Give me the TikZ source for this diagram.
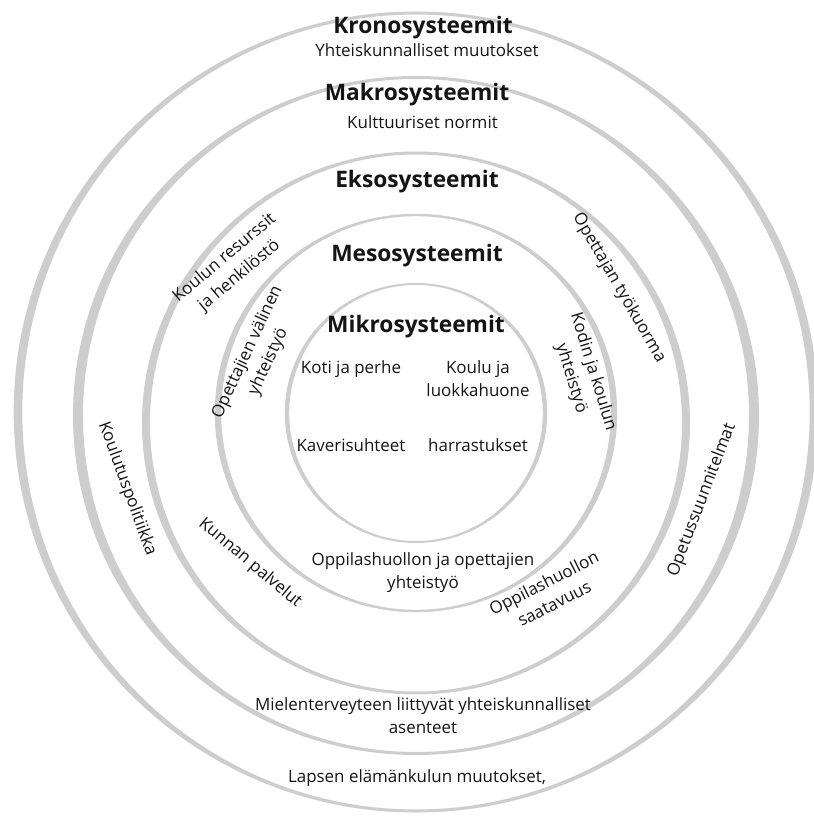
\documentclass[tikz,border=0pt]{standalone}
\usepackage{fontspec}
\setmainfont{Open Sans}
\usepackage{tikz}

\definecolor{ringgray}{HTML}{CDCDCD}
\definecolor{txt}{HTML}{141414}

\tikzset{
  ring/.style={fill=ringgray, even odd rule},
  label/.style={font=\fontsize{17}{23}\selectfont, text=txt, align=center, inner sep=0pt},
  title/.style={font=\fontsize{22.8}{26}\selectfont\bfseries, text=txt, inner sep=0pt}
}

\begin{document}
\begin{tikzpicture}[x=10bp, y=10bp]
\useasboundingbox (-41.6,-40.3) rectangle (39.8,41.3);

% rings, thick at the sides and thin at top and bottom
\fill[ring] (0,0.1) ellipse (40.23 and 40.05) (0,0.1) ellipse (39.37 and 39.75);
\fill[ring] (0,-0.25) ellipse (34.3 and 33.95) (0,-0.25) ellipse (33.3 and 33.65);
\fill[ring] (0,-1.0) ellipse (27.4 and 27.15) (0,-1.0) ellipse (26.6 and 26.85);
\fill[ring] (0,0) ellipse (20.12 and 19.92) (0,0) ellipse (19.48 and 19.68);
\fill[ring] (0,0) ellipse (13.12 and 13.0) (0,0) ellipse (12.68 and 12.8);

% level titles
\node[title] (krono) at (0.7,38.5) {Kronosysteemit};
\node[label] (kronosub) at (1.1,36.3) {Yhteiskunnalliset muutokset};
\node[title] (makro) at (0.1,31.8) {Makrosysteemit};
\node[label] (makrosub) at (0.65,29.1) {Kulttuuriset normit};
\node[title] (ekso) at (0.1,23.1) {Eksosysteemit};
\node[title] (meso) at (0.1,15.7) {Mesosysteemit};
\node[title] (mikro) at (0,8.6) {Mikrosysteemit};

% mikro
\node[label] (koti) at (-6.5,4.4) {Koti ja perhe};
\node[label] (koulu) at (6.2,3.4) {Koulu ja\\luokkahuone};
\node[label] (kaveri) at (-6.5,-3.2) {Kaverisuhteet};
\node[label] (harrastus) at (6.2,-3.2) {harrastukset};

% meso
\node[label, rotate=65] (opevalinen) at (-15.8,5.6) {Opettajien välinen\\yhteistyö};
\node[label, rotate=-73] (kodinkoulun) at (16.6,3.8) {Kodin ja koulun\\yhteistyö};
\node[label] (oppiope) at (0.7,-16.0) {Oppilashuollon ja opettajien\\yhteistyö};

% ekso
\node[label, rotate=40] (resurssit) at (-18.4,14.6) {Koulun resurssit\\ja henkilöstö};
\node[label, rotate=-60] (tyokuorma) at (20.3,12.5) {Opettajan työkuorma};
\node[label, rotate=-40] (kunnan) at (-16.6,-15.0) {Kunnan palvelut};
\node[label, rotate=27] (saatavuus) at (13.3,-18.0) {Oppilashuollon\\saatavuus};

% makro
\node[label, rotate=-70] (politiikka) at (-28.9,-7.6) {Koulutuspolitiikka};
\node[label, rotate=69] (ops) at (28.6,-8.7) {Opetussuunnitelmat};
\node[label] (asenteet) at (0.7,-30.3) {Mielenterveyteen liittyvät yhteiskunnalliset\\asenteet};

% krono
\node[label] (elamankulku) at (0.1,-36.5) {Lapsen elämänkulun muutokset,};
\end{tikzpicture}
\end{document}
